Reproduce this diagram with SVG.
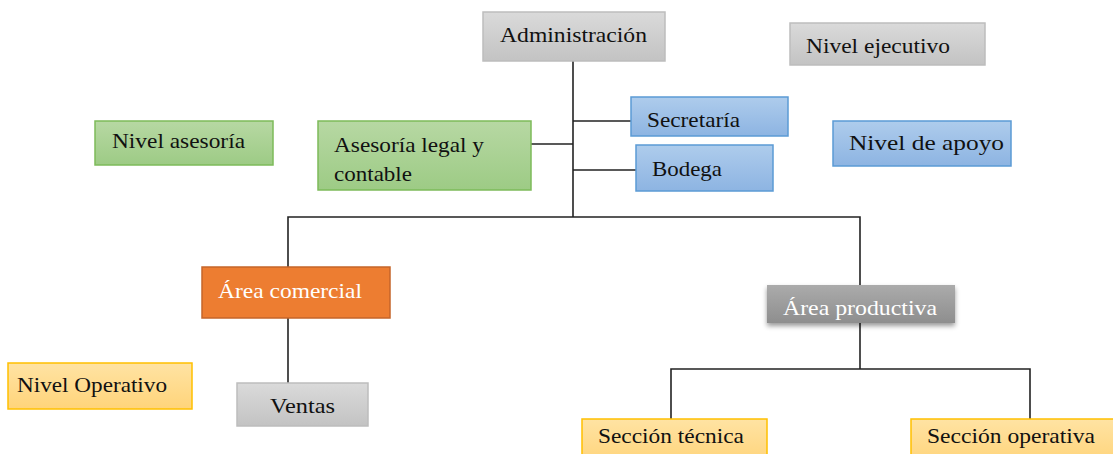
<svg xmlns="http://www.w3.org/2000/svg" width="1113" height="454" viewBox="0 0 1113 454">
<defs>
<linearGradient id="gGray" x1="0" y1="0" x2="0" y2="1"><stop offset="0" stop-color="#DADADA"/><stop offset="1" stop-color="#C3C3C3"/></linearGradient>
<linearGradient id="gGreen" x1="0" y1="0" x2="0" y2="1"><stop offset="0" stop-color="#B7D8A3"/><stop offset="1" stop-color="#9DCB85"/></linearGradient>
<linearGradient id="gBlue" x1="0" y1="0" x2="0" y2="1"><stop offset="0" stop-color="#AECCEC"/><stop offset="1" stop-color="#8DB4E2"/></linearGradient>
<linearGradient id="gYellow" x1="0" y1="0" x2="0" y2="1"><stop offset="0" stop-color="#FFE3A3"/><stop offset="1" stop-color="#FFD47A"/></linearGradient>
<linearGradient id="gDark" x1="0" y1="0" x2="0" y2="1"><stop offset="0" stop-color="#ABABAB"/><stop offset="1" stop-color="#8E8E8E"/></linearGradient>
<filter id="shadow" x="-10%" y="-20%" width="120%" height="160%"><feDropShadow dx="0" dy="3" stdDeviation="2.5" flood-color="#000" flood-opacity="0.4"/></filter>
</defs>
<style>
text{font-family:"Liberation Serif","Times New Roman",serif;font-size:22px;fill:#111}
.gray{fill:url(#gGray);stroke:#BDBDBD;stroke-width:1.5}
.green{fill:url(#gGreen);stroke:#7DBB5A;stroke-width:1.5}
.blue{fill:url(#gBlue);stroke:#5B9BD5;stroke-width:1.5}
.yellow{fill:url(#gYellow);stroke:#FFC000;stroke-width:1.5}
.orange{fill:#ED7D31;stroke:#C5652A;stroke-width:1.5}
.dark{fill:url(#gDark);stroke:none}
.w{fill:#fff}
.conn{stroke:#222;stroke-width:1.6;fill:none}
</style>
<g id="connectors">
<path class="conn" d="M573 61V217"/>
<path class="conn" d="M573 121H631"/>
<path class="conn" d="M531 144H573"/>
<path class="conn" d="M573 170H636"/>
<path class="conn" d="M288 267V217H860V286"/>
<path class="conn" d="M288 318V383"/>
<path class="conn" d="M860 323V369"/>
<path class="conn" d="M671 419V369H1030V419"/>
</g>
<g id="administracion"><rect class="gray" x="483" y="12" width="182" height="49"/><text x="500" y="42" textLength="147" lengthAdjust="spacingAndGlyphs">Administración</text></g>
<g id="nivel-ejecutivo"><rect class="gray" x="790" y="23" width="195" height="42"/><text x="806" y="53" textLength="144" lengthAdjust="spacingAndGlyphs">Nivel ejecutivo</text></g>
<g id="secretaria"><rect class="blue" x="631" y="97" width="157" height="39"/><text x="647" y="127" textLength="93" lengthAdjust="spacingAndGlyphs">Secretaría</text></g>
<g id="bodega"><rect class="blue" x="636" y="145" width="137" height="46"/><text x="652" y="176" textLength="70" lengthAdjust="spacingAndGlyphs">Bodega</text></g>
<g id="nivel-apoyo"><rect class="blue" x="833" y="121" width="178" height="45"/><text x="849" y="150" textLength="155" lengthAdjust="spacingAndGlyphs">Nivel de apoyo</text></g>
<g id="nivel-asesoria"><rect class="green" x="95" y="121" width="178" height="44"/><text x="112" y="148" textLength="133" lengthAdjust="spacingAndGlyphs">Nivel asesoría</text></g>
<g id="asesoria-legal"><rect class="green" x="318" y="121" width="213" height="69"/><text x="334" y="152" textLength="150" lengthAdjust="spacingAndGlyphs">Asesoría legal y</text><text x="334" y="181" textLength="78" lengthAdjust="spacingAndGlyphs">contable</text></g>
<g id="area-comercial"><rect class="orange" x="202" y="267" width="188" height="51"/><text class="w" x="218" y="298" textLength="144" lengthAdjust="spacingAndGlyphs">Área comercial</text></g>
<g id="area-productiva"><rect class="dark" x="767" y="285" width="188" height="38" filter="url(#shadow)"/><text class="w" x="783" y="315" textLength="154" lengthAdjust="spacingAndGlyphs">Área productiva</text></g>
<g id="ventas"><rect class="gray" x="237" y="383" width="131" height="43"/><text x="270" y="413" textLength="65" lengthAdjust="spacingAndGlyphs">Ventas</text></g>
<g id="nivel-operativo"><rect class="yellow" x="8" y="363" width="184" height="46"/><text x="17" y="392" textLength="150" lengthAdjust="spacingAndGlyphs">Nivel Operativo</text></g>
<g id="seccion-tecnica"><rect class="yellow" x="582" y="419" width="185" height="45"/><text x="598" y="443" textLength="146" lengthAdjust="spacingAndGlyphs">Sección técnica</text></g>
<g id="seccion-operativa"><rect class="yellow" x="911" y="419" width="210" height="45"/><text x="927" y="443" textLength="168" lengthAdjust="spacingAndGlyphs">Sección operativa</text></g>
</svg>
